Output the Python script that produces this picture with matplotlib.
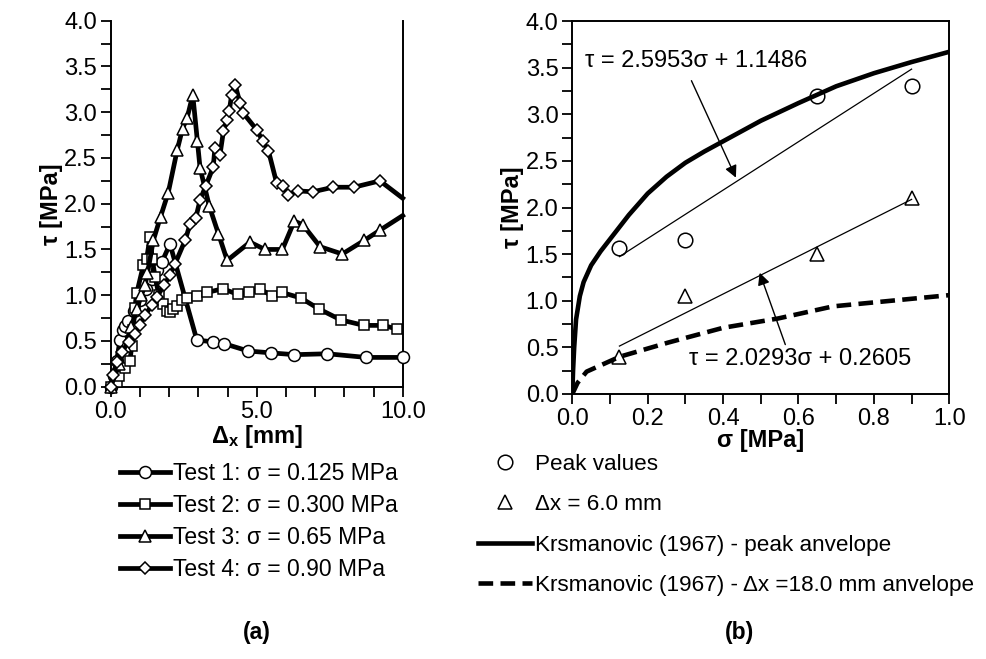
import numpy as np
import matplotlib
matplotlib.use("Agg")
import matplotlib.pyplot as plt
from matplotlib.lines import Line2D
from matplotlib.ticker import MultipleLocator

plt.rcParams["font.family"] = ["Liberation Sans", "DejaVu Sans"]
plt.rcParams["mathtext.fontset"] = "custom"
plt.rcParams["mathtext.rm"] = "Liberation Sans"
plt.rcParams["mathtext.bf"] = "Liberation Sans:bold"
plt.rcParams["mathtext.it"] = "Liberation Sans:italic"

# -------------------------
# (a) shear stress vs horizontal displacement
# -------------------------
t1_x = [0.0, 0.1, 0.2, 0.32, 0.43, 0.5, 0.6, 0.8, 1.0, 1.2, 1.4, 1.6, 1.75, 2.03,
        2.95, 3.51, 3.89, 4.71, 5.48, 6.29, 7.42, 8.74, 10.0]
t1_y = [0.0, 0.12, 0.28, 0.51, 0.62, 0.66, 0.72, 0.83, 0.95, 1.07, 1.18, 1.28, 1.36, 1.56,
        0.51, 0.49, 0.47, 0.39, 0.37, 0.35, 0.36, 0.32, 0.32]

t2_x = [0.0, 0.2, 0.3, 0.49, 0.66, 0.72, 0.77, 0.83, 0.89, 1.12, 1.23, 1.35, 1.42, 1.52,
        1.65, 1.78, 1.92, 2.02, 2.12, 2.26, 2.43, 2.6, 2.95, 3.29, 3.84, 4.35, 4.75,
        5.11, 5.53, 5.86, 6.51, 7.13, 7.88, 8.67, 9.32, 9.82]
t2_y = [0.0, 0.05, 0.12, 0.2, 0.28, 0.45, 0.62, 0.86, 1.02, 1.33, 1.4, 1.64, 1.4, 1.2,
        1.0, 0.9, 0.83, 0.82, 0.85, 0.88, 0.95, 0.97, 0.99, 1.03, 1.07, 1.01, 1.03,
        1.07, 0.99, 1.03, 0.97, 0.85, 0.73, 0.67, 0.67, 0.63]

t3_x = [0.0, 0.3, 0.5, 0.7, 0.9, 1.05, 1.18, 1.26, 1.46, 1.71, 1.97, 2.28, 2.46, 2.62,
        2.81, 2.97, 3.06, 3.38, 3.69, 3.99, 4.77, 5.28, 5.88, 6.29, 6.58, 7.17, 7.93,
        8.69, 9.22, 10.0]
t3_y = [0.0, 0.25, 0.45, 0.65, 0.85, 1.0, 1.11, 1.24, 1.6, 1.86, 2.12, 2.59, 2.82, 2.94,
        3.19, 2.68, 2.39, 1.97, 1.67, 1.38, 1.58, 1.5, 1.5, 1.81, 1.77, 1.53, 1.45,
        1.6, 1.71, 1.87]

t4_x = [0.0, 0.09, 0.21, 0.38, 0.61, 0.83, 1.0, 1.18, 1.4, 1.58, 1.83, 2.03, 2.2, 2.55,
        2.72, 2.91, 3.06, 3.25, 3.51, 3.57, 3.74, 3.86, 3.97, 4.06, 4.14, 4.26, 4.43,
        4.54, 5.02, 5.21, 5.4, 5.68, 5.91, 6.08, 6.42, 6.92, 7.62, 8.33, 9.22, 10.0]
t4_y = [0.0, 0.13, 0.27, 0.38, 0.49, 0.58, 0.67, 0.78, 0.89, 0.98, 1.11, 1.22, 1.34, 1.6,
        1.78, 1.84, 2.04, 2.19, 2.4, 2.61, 2.53, 2.79, 2.91, 3.01, 3.19, 3.3, 3.1,
        2.99, 2.8, 2.68, 2.58, 2.23, 2.19, 2.1, 2.14, 2.13, 2.18, 2.18, 2.25, 2.06]

tests = [
    ("Test 1: σ = 0.125 MPa", t1_x, t1_y, "o", 8.6, False),
    ("Test 2: σ = 0.300 MPa", t2_x, t2_y, "s", 7.8, False),
    ("Test 3: σ = 0.65 MPa", t3_x, t3_y, "^", 9.0, True),
    ("Test 4: σ = 0.90 MPa", t4_x, t4_y, "D", 6.2, True),
]

# -------------------------
# (b) shear strength envelopes
# -------------------------
sig_tests = [0.125, 0.3, 0.65, 0.9]
tau_peak = [1.57, 1.65, 3.2, 3.3]
tau_6mm = [0.4, 1.05, 1.5, 2.1]

fit_x = [0.125, 0.9]
fit_peak_y = [1.473, 3.484]
fit_6mm_y = [0.514, 2.087]

kr_peak_x = [0.0, 0.002, 0.005, 0.01, 0.02, 0.03, 0.05, 0.075, 0.1, 0.15, 0.2, 0.25,
             0.3, 0.35, 0.4, 0.5, 0.6, 0.7, 0.8, 0.9, 1.0]
kr_peak_y = [0.0, 0.25, 0.5, 0.8, 1.05, 1.2, 1.38, 1.53, 1.66, 1.92, 2.15, 2.33,
             2.48, 2.6, 2.71, 2.93, 3.12, 3.3, 3.44, 3.56, 3.67]

kr_18_x = [0.0, 0.014, 0.038, 0.126, 0.253, 0.4, 0.546, 0.692, 1.0]
kr_18_y = [0.0, 0.12, 0.24, 0.4, 0.55, 0.71, 0.81, 0.94, 1.06]

FS = 16.5
W, H = 987, 659
fig = plt.figure(figsize=(W / 100, H / 100), dpi=100)

axL = fig.add_axes([110.7 / W, (H - 386.7) / H, 292 / W, 366 / H])
axR = fig.add_axes([572.3 / W, (H - 394) / H, 377 / W, 373 / H])

# ---- panel (a)
for label, xs, ys, mk, ms, drop_last in tests:
    n = len(xs)
    every = list(range(n - 1)) if drop_last else list(range(n))
    axL.plot(xs, ys, color="black", lw=3.4, marker=mk, ms=ms, mfc="white",
             mec="black", mew=1.1, markevery=every, clip_on=False, zorder=3)

axL.set_xlim(0, 10)
axL.set_ylim(0, 4)
axL.xaxis.set_major_locator(MultipleLocator(5))
axL.xaxis.set_minor_locator(MultipleLocator(1))
axL.yaxis.set_major_locator(MultipleLocator(0.5))
axL.yaxis.set_minor_locator(MultipleLocator(0.25))
axL.xaxis.set_major_formatter(lambda v, p: f"{v:.1f}")
axL.yaxis.set_major_formatter(lambda v, p: f"{v:.1f}")
axL.spines["top"].set_visible(False)
for sp in axL.spines.values():
    sp.set_linewidth(1.4)
axL.set_xlabel(r"$\mathbf{\Delta_x}$ [mm]", fontsize=17, fontweight="bold")
axL.set_ylabel("τ [MPa]", fontsize=17, fontweight="bold")
axL.xaxis.label.set_va("center")
axL.yaxis.label.set_va("center")
axL.xaxis.set_label_coords(0.5, (386.7 - 437) / 366)
axL.yaxis.set_label_coords((52 - 110.7) / 292, 0.5)

# ---- panel (b)
axR.plot(kr_peak_x, kr_peak_y, color="black", lw=3.3, zorder=2,
         label="Krsmanovic (1967) - peak anvelope")
axR.plot(kr_18_x, kr_18_y, color="black", lw=3.3, ls=(0, (3.2, 1.6)), zorder=2,
         label="Krsmanovic (1967) - Δx =18.0 mm anvelope")
axR.plot(fit_x, fit_peak_y, color="black", lw=0.9, zorder=2)
axR.plot(fit_x, fit_6mm_y, color="black", lw=0.9, zorder=2)
axR.plot(sig_tests, tau_peak, ls="none", marker="o", ms=10.5, mfc="none",
         mec="black", mew=1.1, zorder=3, label="Peak values")
axR.plot(sig_tests, tau_6mm, ls="none", marker="^", ms=10.5, mfc="none",
         mec="black", mew=1.1, zorder=3, label="Δx = 6.0 mm")

axR.annotate("", xy=(0.434, 2.32), xytext=(0.316, 3.36),
             arrowprops=dict(arrowstyle="-|>", color="black", lw=1.0,
                             mutation_scale=18, shrinkA=0, shrinkB=0))
axR.annotate("", xy=(0.497, 1.30), xytext=(0.565, 0.53),
             arrowprops=dict(arrowstyle="-|>", color="black", lw=1.0,
                             mutation_scale=18, shrinkA=0, shrinkB=0))
axR.text(0.035, 3.57, "τ = 2.5953σ + 1.1486", fontsize=17, ha="left", va="center")
axR.text(0.31, 0.37, "τ = 2.0293σ + 0.2605", fontsize=17, ha="left", va="center")

axR.set_xlim(0, 1)
axR.set_ylim(0, 4)
axR.xaxis.set_major_locator(MultipleLocator(0.2))
axR.xaxis.set_minor_locator(MultipleLocator(0.1))
axR.yaxis.set_major_locator(MultipleLocator(0.5))
axR.yaxis.set_minor_locator(MultipleLocator(0.25))
axR.xaxis.set_major_formatter(lambda v, p: f"{v:.1f}")
axR.yaxis.set_major_formatter(lambda v, p: f"{v:.1f}")
for sp in axR.spines.values():
    sp.set_linewidth(1.4)
axR.set_xlabel("σ [MPa]", fontsize=17, fontweight="bold")
axR.set_ylabel("τ [MPa]", fontsize=17, fontweight="bold")
axR.xaxis.label.set_va("center")
axR.yaxis.label.set_va("center")
axR.xaxis.set_label_coords(0.5, (394 - 441) / 373)
axR.yaxis.set_label_coords((513 - 572.3) / 377, 0.5)

for ax in (axL, axR):
    ax.tick_params(which="both", direction="out", length=7, width=1.3,
                   labelsize=17, pad=3)
    ax.tick_params(which="minor", labelbottom=False, labelleft=False)

# ---- legends
hL = [Line2D([], [], color="black", lw=3.4, marker=mk, ms=ms, mfc="white",
             mec="black", mew=1.1) for _, _, _, mk, ms, _ in tests]
fig.legend(hL, [t[0] for t in tests], loc="upper left",
           bbox_to_anchor=(120 / W, 1 - 462 / H), frameon=False, fontsize=FS,
           numpoints=1, handlelength=2.2, handletextpad=0.1, labelspacing=0.4,
           borderpad=0, borderaxespad=0)

hR, lR = axR.get_legend_handles_labels()
order = [2, 3, 0, 1]
fig.legend([hR[i] for i in order], [lR[i] for i in order], loc="upper left",
           bbox_to_anchor=(478 / W, 1 - 454 / H), frameon=False, fontsize=FS - 0.3,
           numpoints=1, handlelength=2.4, handletextpad=0.15, labelspacing=0.86,
           borderpad=0, borderaxespad=0)

fig.text(257 / W, 1 - 632 / H, "(a)", fontsize=FS, fontweight="bold",
         ha="center", va="center")
fig.text(740 / W, 1 - 632 / H, "(b)", fontsize=FS, fontweight="bold",
         ha="center", va="center")

fig.savefig("out.png", dpi=100)
